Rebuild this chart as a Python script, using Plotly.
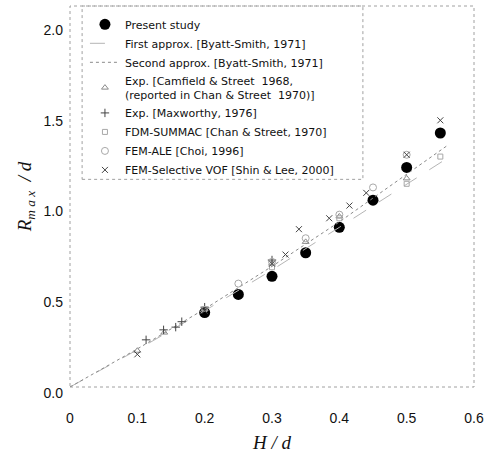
import plotly.graph_objects as go

# ---- data ----
present_x = [0.20, 0.25, 0.30, 0.35, 0.40, 0.45, 0.50, 0.55]
present_y = [0.41, 0.51, 0.61, 0.74, 0.88, 1.03, 1.21, 1.40]

first_x = [0.0, 0.10, 0.20, 0.30, 0.40, 0.50, 0.56]
first_y = [0.0, 0.205, 0.42, 0.645, 0.88, 1.12, 1.26]

second_x = [0.0, 0.10, 0.20, 0.30, 0.40, 0.50, 0.56]
second_y = [0.0, 0.21, 0.43, 0.665, 0.91, 1.17, 1.33]

camfield_x = [0.10, 0.14, 0.20, 0.30, 0.35, 0.40, 0.50]
camfield_y = [0.20, 0.30, 0.43, 0.68, 0.80, 0.94, 1.15]

maxworthy_x = [0.113, 0.139, 0.157, 0.166, 0.20, 0.30]
maxworthy_y = [0.26, 0.315, 0.33, 0.36, 0.44, 0.70]

summac_x = [0.20, 0.30, 0.40, 0.50, 0.55]
summac_y = [0.43, 0.66, 0.93, 1.12, 1.27]

ale_x = [0.25, 0.30, 0.35, 0.40, 0.45, 0.50]
ale_y = [0.57, 0.69, 0.82, 0.95, 1.10, 1.28]

vof_x = [0.10, 0.20, 0.30, 0.32, 0.34, 0.385, 0.415, 0.44, 0.50, 0.55]
vof_y = [0.18, 0.42, 0.68, 0.73, 0.87, 0.93, 1.00, 1.07, 1.28, 1.47]

x_ticks = [0, 0.1, 0.2, 0.3, 0.4, 0.5, 0.6]
x_ticklabels = ["0", "0.1", "0.2", "0.3", "0.4", "0.5", "0.6"]
y_ticks = [0.0, 0.5, 1.0, 1.5, 2.0]
y_ticklabels = ["0.0", "0.5", "1.0", "1.5", "2.0"]

fig = go.Figure()
fig.add_trace(go.Scatter(x=present_x, y=present_y, mode="markers",
                         name="Present study",
                         marker=dict(symbol="circle", size=11, color="black")))
fig.add_trace(go.Scatter(x=first_x, y=first_y, mode="lines",
                         name="First approx. [Byatt-Smith, 1971]",
                         line=dict(color="#b5b5b5", width=1, dash="longdash")))
fig.add_trace(go.Scatter(x=second_x, y=second_y, mode="lines",
                         name="Second approx. [Byatt-Smith, 1971]",
                         line=dict(color="#8a8a8a", width=1, dash="dot")))
fig.add_trace(go.Scatter(x=camfield_x, y=camfield_y, mode="markers",
                         name="Exp. [Camfield & Street  1968,<br>(reported in Chan & Street  1970)]",
                         marker=dict(symbol="triangle-up-open", size=6, color="#8a8a8a",
                                     line=dict(width=1))))
fig.add_trace(go.Scatter(x=maxworthy_x, y=maxworthy_y, mode="markers",
                         name="Exp. [Maxworthy, 1976]",
                         marker=dict(symbol="cross-thin", size=6, color="#6a6a6a",
                                     line=dict(width=1))))
fig.add_trace(go.Scatter(x=summac_x, y=summac_y, mode="markers",
                         name="FDM-SUMMAC [Chan & Street, 1970]",
                         marker=dict(symbol="square-open", size=5, color="#a8a8a8",
                                     line=dict(width=1))))
fig.add_trace(go.Scatter(x=ale_x, y=ale_y, mode="markers",
                         name="FEM-ALE [Choi, 1996]",
                         marker=dict(symbol="circle-open", size=7, color="#a8a8a8",
                                     line=dict(width=1))))
fig.add_trace(go.Scatter(x=vof_x, y=vof_y, mode="markers",
                         name="FEM-Selective VOF [Shin & Lee, 2000]",
                         marker=dict(symbol="x-thin", size=6, color="#777777",
                                     line=dict(width=1))))

# dotted frame and legend box
frame = dict(color="#a0a0a0", width=1, dash="dot")
fig.add_shape(type="rect", xref="paper", yref="paper", x0=0, x1=1, y0=0, y1=1,
              line=frame, layer="below")
fig.add_shape(type="rect", xref="paper", yref="paper", x0=0.03, x1=0.725,
              y0=0.545, y1=1.0, line=frame, layer="below")

fig.update_layout(
    width=488, height=455,
    margin=dict(l=70, r=14, t=6, b=68),
    plot_bgcolor="white", paper_bgcolor="white",
    font=dict(family="Liberation Sans, Arial, sans-serif", color="#111"),
    showlegend=True,
    legend=dict(x=0.037, y=0.99, xanchor="left", yanchor="top",
                bgcolor="rgba(0,0,0,0)", borderwidth=0,
                font=dict(family="DejaVu Sans, sans-serif", size=11, color="#111"),
                itemwidth=30, tracegroupgap=0),
)
fig.update_xaxes(range=[0, 0.6], tickvals=x_ticks, ticktext=x_ticklabels,
                 showgrid=False, zeroline=False, showline=False, automargin=False,
                 ticks="", tickfont=dict(size=14), ticklabelstandoff=21,
                 title=dict(text="<i>H / d</i>",
                            font=dict(family="Liberation Serif, Times New Roman, serif", size=19),
                            standoff=10))
fig.update_yaxes(range=[0, 2.1], tickvals=y_ticks, ticktext=y_ticklabels,
                 showgrid=False, zeroline=False, showline=False, automargin=False,
                 ticks="", tickfont=dict(size=14), ticklabelstandoff=6,
                 ticklabelshift=6,
                 title=dict(text="<i>R</i><sub><i>m a x</i></sub><i>  / d</i>",
                            font=dict(family="Liberation Serif, Times New Roman, serif", size=19),
                            standoff=6))

fig.write_html("out.html", config={"displayModeBar": False},
               post_script="document.body.style.margin='0';document.body.style.overflow='hidden';")
